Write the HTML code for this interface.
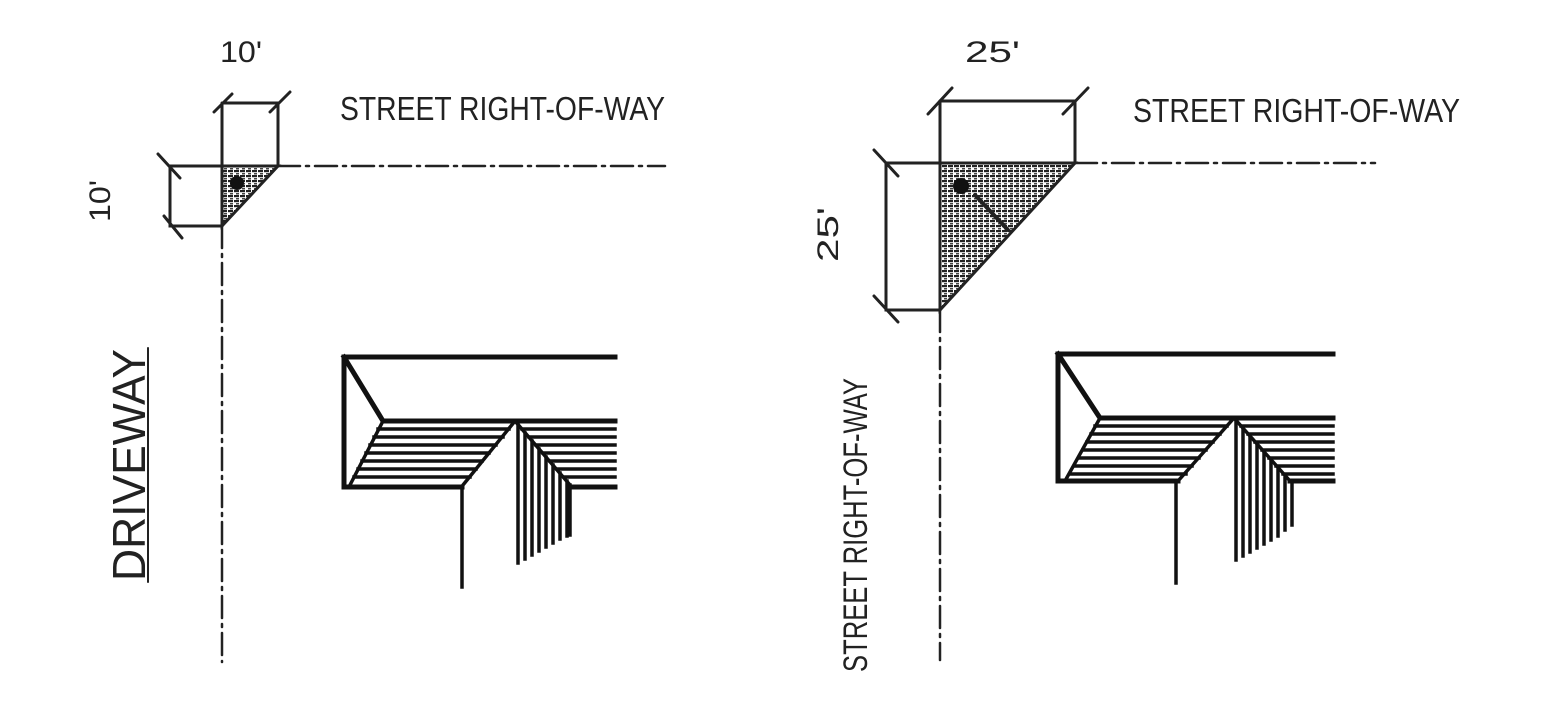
<!DOCTYPE html>
<html><head><style>html,body{margin:0;padding:0;background:#fff}svg{display:block}</style></head>
<body>
<svg width="1541" height="704" viewBox="0 0 1541 704" xmlns="http://www.w3.org/2000/svg">
<defs>
<pattern id="st" width="6" height="5" patternUnits="userSpaceOnUse">
<rect width="6" height="5" fill="#fff"/>
<rect x="0" y="0" width="5" height="2.2" fill="#222"/>
<rect x="2" y="3" width="3" height="1.5" fill="#444"/>
</pattern>
</defs>
<g stroke="#222" fill="none" stroke-linecap="round">
<!-- LEFT corner -->
<path d="M222,166 L278,166 L222,226 Z" fill="url(#st)" stroke-width="3"/>
<path d="M222,103 V166 M278,103 V166 M222,103 H278 M170,166 H222 M170,166 V226 H222" stroke-width="3"/>
<path d="M214,112 L232,94 M270,112 L290,92 M158,154 L180,178 M164,216 L182,238" stroke-width="3"/>
<path d="M278,166 H665" stroke-width="2.5" stroke-dasharray="22,6,3,6"/>
<path d="M222,226 V662" stroke-width="2.5" stroke-dasharray="22,6,3,6"/>
<circle cx="237" cy="183" r="7" fill="#111" stroke="none"/>
<line x1="148" y1="348" x2="148" y2="582" stroke-width="2"/>
<!-- RIGHT corner -->
<path d="M940,163 L1075,163 L940,310 Z" fill="url(#st)" stroke-width="3"/>
<path d="M940,101 V163 M1075,101 V163 M940,101 H1075 M886,163 H940 M886,163 V310 H940" stroke-width="3"/>
<path d="M928,114 L952,88 M1063,114 L1088,88 M874,150 L898,176 M874,296 L898,322" stroke-width="3"/>
<path d="M1075,163 H1375" stroke-width="2.5" stroke-dasharray="22,6,3,6"/>
<path d="M940,310 V660" stroke-width="2.5" stroke-dasharray="22,6,3,6"/>
<circle cx="961" cy="186" r="8" fill="#111" stroke="none"/>
<line x1="975" y1="195" x2="1008" y2="230" stroke-width="4"/>
</g>
<!-- LEFT building -->
<g stroke="#111" fill="none" stroke-linecap="square">
<path d="M344,357 H615 M344,357 V487 H462 M344,357 L383,421 H615 M570,487 H615" stroke-width="5"/>
<path d="M383,421 L350,485 M515,421 L463,485 M515,421 L570,485 M462,487 V587 M570,485 V535" stroke-width="3.5"/>
<g stroke-width="3.5">
<path d="M378,429 H509 M374,437 H503 M370,445 H496 M366,453 H489 M362,461 H482 M358,469 H476 M354,477 H470"/>
<path d="M522,429 H615 M529,437 H615 M536,445 H615 M543,453 H615 M550,461 H615 M557,469 H615 M564,477 H615"/>
<path d="M518,425 V563 M525,433 V559 M532,441 V555 M539,449 V551 M546,457 V547 M553,465 V543 M560,473 V539 M567,481 V536"/>
</g>
</g>
<!-- RIGHT building -->
<g stroke="#111" fill="none" stroke-linecap="square">
<path d="M1058,354 H1333 M1058,354 V481 H1178 M1058,354 L1100,418 H1333 M1290,481 H1333" stroke-width="5"/>
<path d="M1100,418 L1065,481 M1234,418 L1178,481 M1234,418 L1290,481 M1176,481 V583 M1292,481 V525" stroke-width="3.5"/>
<g stroke-width="3.5">
<path d="M1095,426 H1227 M1091,434 H1220 M1087,442 H1213 M1083,450 H1206 M1079,458 H1199 M1075,466 H1192 M1071,474 H1186"/>
<path d="M1241,426 H1333 M1248,434 H1333 M1255,442 H1333 M1262,450 H1333 M1269,458 H1333 M1276,466 H1333 M1283,474 H1333"/>
<path d="M1236,422 V560 M1243,430 V556 M1250,438 V552 M1257,446 V548 M1264,454 V544 M1271,462 V540 M1278,470 V536 M1285,478 V530"/>
</g>
</g>
<g fill="#222" font-family="'Liberation Sans', sans-serif">
<text x="220" y="62" font-size="30" textLength="42" lengthAdjust="spacingAndGlyphs">10'</text>
<text transform="translate(110,222) rotate(-90)" font-size="30" textLength="42" lengthAdjust="spacingAndGlyphs">10'</text>
<text x="340" y="120" font-size="33" textLength="325" lengthAdjust="spacingAndGlyphs">STREET RIGHT-OF-WAY</text>
<text transform="translate(145,581) rotate(-90)" font-size="46" textLength="232" lengthAdjust="spacingAndGlyphs">DRIVEWAY</text>
<text x="965" y="62" font-size="30" textLength="55" lengthAdjust="spacingAndGlyphs">25'</text>
<text transform="translate(838,262) rotate(-90)" font-size="30" textLength="55" lengthAdjust="spacingAndGlyphs">25'</text>
<text x="1133" y="122" font-size="33" textLength="327" lengthAdjust="spacingAndGlyphs">STREET RIGHT-OF-WAY</text>
<text transform="translate(867,672) rotate(-90)" font-size="34" textLength="294" lengthAdjust="spacingAndGlyphs">STREET RIGHT-OF-WAY</text>
</g>
</svg>
</body></html>
